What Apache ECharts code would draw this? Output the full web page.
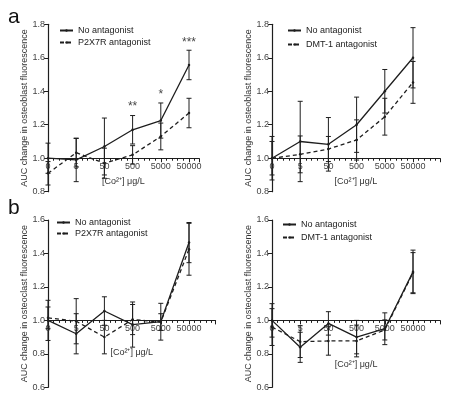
<!DOCTYPE html>
<html lang="en">
<head>
<meta charset="UTF-8">
<title>AUC change</title>
<script src="https://cdn.jsdelivr.net/npm/echarts@6/dist/echarts.min.js"></script>
<style>
  html, body { margin: 0; padding: 0; background: #fff; }
  #main { width: 476px; height: 405px; }
</style>
</head>
<body>
<div id="main"></div>
<script>
// x categories (log-spaced concentrations)
var xLabels = ['0', '5', '50', '500', '5000', '50000'];
var xIdx = [0, 1, 2, 3, 4, 5];

// panel a, P2X7R antagonist (osteoblast)
var aP_noAnt    = [1.0, 0.99, 1.07, 1.17, 1.225, 1.557];
var aP_noAntErr = [0.09, 0.13, 0.17, 0.085, 0.105, 0.088];
var aP_ant      = [0.91, 1.033, 0.97, 1.02, 1.13, 1.27];
var aP_antErr   = [0.07, 0.085, 0.09, 0.055, 0.08, 0.088];

// panel a, DMT-1 antagonist (osteoblast)
var aD_noAnt    = [1.0, 1.10, 1.083, 1.20, 1.40, 1.60];
var aD_noAntErr = [0.13, 0.24, 0.16, 0.165, 0.13, 0.18];
var aD_ant      = [1.0, 1.023, 1.055, 1.109, 1.248, 1.453];
var aD_antErr   = [0.10, 0.11, 0.075, 0.12, 0.11, 0.125];

// panel b, P2X7R antagonist (osteoclast)
var bP_noAnt    = [1.0, 0.92, 1.056, 0.975, 0.992, 1.465];
var bP_noAntErr = [0.12, 0.12, 0.085, 0.135, 0.11, 0.12];
var bP_ant      = [1.015, 0.995, 0.90, 1.005, 0.99, 1.425];
var bP_antErr   = [0.065, 0.135, 0.10, 0.09, 0.05, 0.155];

// panel b, DMT-1 antagonist (osteoclast)
var bD_noAnt    = [1.0, 0.839, 0.982, 0.90, 0.95, 1.29];
var bD_noAntErr = [0.10, 0.09, 0.07, 0.10, 0.095, 0.13];
var bD_ant      = [0.96, 0.873, 0.877, 0.877, 0.943, 1.285];
var bD_antErr   = [0.11, 0.095, 0.085, 0.095, 0.06, 0.12];

// significance marks in panel a (left)
var starX = [3, 4, 5];
var starY = [1.31, 1.38, 1.69];
var starText = ['**', '*', '***'];

var FONT = 'Liberation Sans, Arial, sans-serif';
var INK = '#1e1e1e';
var STEP = 28.2; // px per decade

var panels = [
  {left: 48, top: 24.3, h: 167.4, xMax: 5.35, yMin: 0.8, yMax: 1.8, yName: 'AUC change in osteoblast fluorescence',
   antName: 'P2X7R antagonist', no: aP_noAnt, noErr: aP_noAntErr, ant: aP_ant, antErr: aP_antErr,
   legend: {left: 59, top: 25, gap: 0}, nameGap: 19},
  {left: 272, top: 24.3, h: 167.4, xMax: 5.95, yMin: 0.8, yMax: 1.8, yName: 'AUC change in osteoblast fluorescence',
   antName: 'DMT-1 antagonist', no: aD_noAnt, noErr: aD_noAntErr, ant: aD_ant, antErr: aD_antErr,
   legend: {left: 287, top: 25, gap: 2}, nameGap: 19},
  {left: 48, top: 220, h: 167.3, xMax: 5.94, yMin: 0.6, yMax: 1.6, yName: 'AUC change in osteoclast fluorescence',
   antName: 'P2X7R antagonist', no: bP_noAnt, noErr: bP_noAntErr, ant: bP_ant, antErr: bP_antErr,
   legend: {left: 56, top: 217, gap: -1}, nameGap: 28},
  {left: 272, top: 220, h: 167.3, xMax: 5.96, yMin: 0.6, yMax: 1.6, yName: 'AUC change in osteoclast fluorescence',
   antName: 'DMT-1 antagonist', no: bD_noAnt, noErr: bD_noAntErr, ant: bD_ant, antErr: bD_antErr,
   legend: {left: 282, top: 219, gap: 1}, nameGap: 40}
];

function zip(ys, errs) {
  return xIdx.map(function (x, i) { return errs ? [x, ys[i], errs[i]] : [x, ys[i]]; });
}

function errRender(params, api) {
  var x = api.value(0), y = api.value(1), e = api.value(2);
  var hi = api.coord([x, y + e]);
  var lo = api.coord([x, y - e]);
  var w = 2.5;
  var st = {stroke: INK, lineWidth: 1};
  return {type: 'group', children: [
    {type: 'line', shape: {x1: hi[0], y1: hi[1], x2: lo[0], y2: lo[1]}, style: st},
    {type: 'line', shape: {x1: hi[0] - w, y1: hi[1], x2: hi[0] + w, y2: hi[1]}, style: st},
    {type: 'line', shape: {x1: lo[0] - w, y1: lo[1], x2: lo[0] + w, y2: lo[1]}, style: st}
  ]};
}

var option = {
  animation: false,
  textStyle: {fontFamily: FONT},
  title: [
    {text: 'a', left: 3, top: 2, textStyle: {fontSize: 21, fontWeight: 'normal', color: '#111', fontFamily: FONT}},
    {text: 'b', left: 3, top: 193, textStyle: {fontSize: 21, fontWeight: 'normal', color: '#111', fontFamily: FONT}}
  ],
  grid: [], xAxis: [], yAxis: [], legend: [], series: []
};

panels.forEach(function (p, k) {
  var w = p.xMax * STEP;
  var y1 = p.top + (p.yMax - 1.0) / (p.yMax - p.yMin) * p.h;
  // data grid
  option.grid.push({left: p.left, top: p.top, width: w, height: p.h});
  // tick grid: a thin strip whose bottom edge sits at y = 1.0
  option.grid.push({left: p.left, top: y1 - 1, width: w, height: 1});

  var gData = k * 2, gTick = k * 2 + 1;
  option.xAxis.push({type: 'value', gridIndex: gData, min: 0, max: p.xMax, show: false});
  option.xAxis.push({
    type: 'value', gridIndex: gTick, min: 0, max: p.xMax, interval: 1, position: 'bottom',
    name: '[Co²⁺] μg/L', nameLocation: 'middle', nameGap: p.nameGap,
    nameTextStyle: {fontSize: 9, color: '#333', fontFamily: FONT},
    axisLine: {show: true, lineStyle: {color: INK, width: 1.2}},
    axisTick: {show: true, length: 4, lineStyle: {color: INK}},
    minorTick: {show: true, splitNumber: 5, length: 2.5, lineStyle: {color: INK}},
    splitLine: {show: false},
    axisLabel: {fontSize: 9, color: '#444', margin: 4, fontFamily: FONT,
      formatter: function (v) { return xLabels[Math.round(v)] !== undefined && Math.abs(v - Math.round(v)) < 1e-6 ? xLabels[Math.round(v)] : ''; }}
  });
  option.yAxis.push({
    type: 'value', gridIndex: gData, min: p.yMin, max: p.yMax, interval: 0.2,
    name: p.yName, nameLocation: 'middle', nameGap: 18,
    nameTextStyle: {fontSize: 9, color: '#333', fontFamily: FONT},
    axisLine: {show: true, lineStyle: {color: INK, width: 1.2}},
    axisTick: {show: true, length: 4, lineStyle: {color: INK}},
    splitLine: {show: false},
    axisLabel: {fontSize: 9, color: '#444', margin: 3, fontFamily: FONT,
      formatter: function (v) { return v.toFixed(1); }}
  });
  option.yAxis.push({type: 'value', gridIndex: gTick, show: false, min: 0, max: 1});

  var xi = gData, yi = gData; // axis indexes follow the push order (two per panel)
  option.series.push({
    name: 'No antagonist', type: 'line', xAxisIndex: xi, yAxisIndex: yi,
    data: zip(p.no), symbol: 'circle', symbolSize: 2.5,
    lineStyle: {color: INK, width: 1.3}, itemStyle: {color: INK}, z: 3
  });
  option.series.push({
    name: p.antName, type: 'line', xAxisIndex: xi, yAxisIndex: yi,
    data: zip(p.ant), symbol: 'circle', symbolSize: 2.5,
    lineStyle: {color: INK, width: 1.3, type: [4, 3]}, itemStyle: {color: INK}, z: 3
  });
  option.series.push({
    type: 'custom', xAxisIndex: xi, yAxisIndex: yi, renderItem: errRender,
    encode: {x: 0, y: 1}, data: zip(p.no, p.noErr), z: 2
  });
  option.series.push({
    type: 'custom', xAxisIndex: xi, yAxisIndex: yi, renderItem: errRender,
    encode: {x: 0, y: 1}, data: zip(p.ant, p.antErr), z: 2
  });

  option.legend.push({
    orient: 'vertical', left: p.legend.left, top: p.legend.top,
    itemWidth: 13, itemHeight: 3, itemGap: p.legend.gap + 1, padding: 0,
    data: ['No antagonist', p.antName],
    textStyle: {fontSize: 9, color: '#222', fontFamily: FONT, lineHeight: 11}
  });
});

// stars above panel a (left)
option.series.push({
  type: 'scatter', xAxisIndex: 0, yAxisIndex: 0, symbolSize: 0,
  data: xIdx.slice(0, 3).map(function (_, i) { return [starX[i], starY[i]]; }),
  label: {show: true, position: 'inside', fontSize: 12, color: '#111', fontFamily: FONT,
    formatter: function (d) { return starText[d.dataIndex]; }}
});

var chart = echarts.init(document.getElementById('main'));
chart.setOption(option);
</script>
</body>
</html>
